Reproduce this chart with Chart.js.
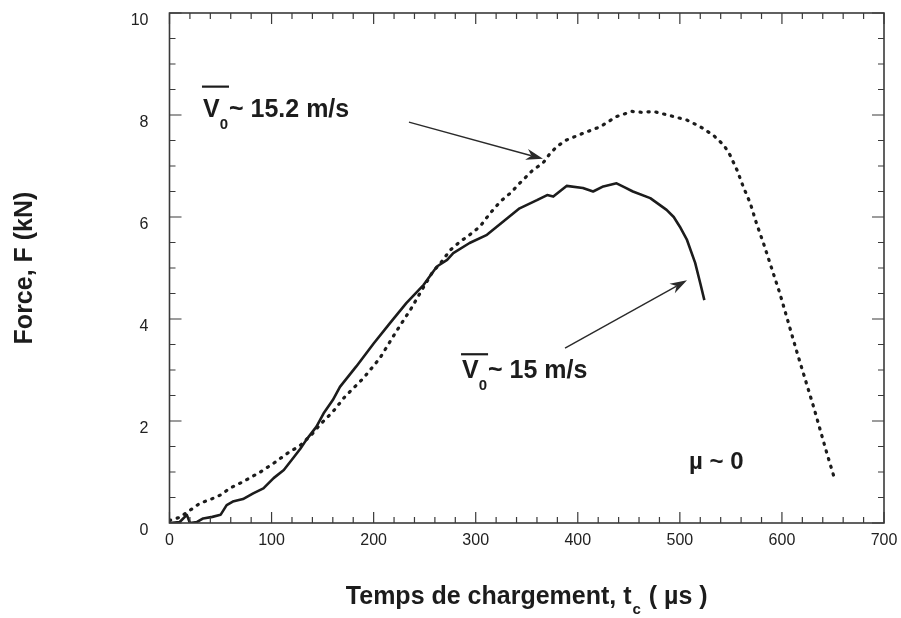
<!DOCTYPE html>
<html><head><meta charset="utf-8">
<script src="https://cdn.jsdelivr.net/npm/chart.js@4.4.1/dist/chart.umd.min.js"></script>
<style>html,body{margin:0;padding:0;background:#fff;}canvas{display:block;}</style>
</head><body>
<canvas id="c" width="901" height="618"></canvas>
<script>
// ---- data ----
const solidT = [0,10,17,20,27,33,42,50,56,62,72,82,92,102,112,121,128,134,144,151,160,167,183,200,216,232,249,262,272,278,294,311,327,343,360,370,376,389,405,415,425,438,446,454,471,487,494,500,507,515,520,524];
const solidF = [0.0,0.02,0.16,0.0,0.02,0.09,0.12,0.16,0.35,0.42,0.47,0.58,0.68,0.88,1.04,1.27,1.45,1.63,1.89,2.15,2.41,2.67,3.07,3.52,3.92,4.31,4.67,5.03,5.16,5.29,5.49,5.65,5.91,6.17,6.33,6.43,6.40,6.61,6.57,6.50,6.60,6.66,6.58,6.50,6.37,6.14,6.0,5.81,5.55,5.10,4.70,4.37];
const dottedT = [0,10,23,30,40,50,59,72,89,102,115,128,140,147,160,172,190,206,222,236,249,258,265,275,285,294,304,314,324,334,343,356,366,373,380,389,405,422,438,453,464,474,490,507,520,533,543,549,556,562,569,575,582,598,615,631,644,652];
const dottedF = [0.05,0.11,0.29,0.39,0.46,0.55,0.68,0.81,1.00,1.17,1.36,1.52,1.75,1.92,2.18,2.48,2.84,3.23,3.75,4.18,4.63,4.93,5.08,5.35,5.52,5.65,5.81,6.07,6.30,6.47,6.66,6.92,7.06,7.25,7.39,7.51,7.64,7.77,7.97,8.07,8.05,8.07,7.99,7.90,7.77,7.60,7.41,7.22,6.92,6.60,6.27,5.88,5.48,4.50,3.33,2.28,1.37,0.84];
const xTickValues = [0,100,200,300,400,500,600,700];
const yTickValues = [0,2,4,6,8,10];
const xTitleMain = 'Temps de chargement, t';
const xTitleSub = 'c';
const xTitleEnd = ' ( \u00B5s )';
const yTitle = 'Force, F (kN)';
const labelDotted = '~ 15.2 m/s';
const labelSolid = '~ 15 m/s';
const labelFriction = '\u00B5 ~ 0';
// annotation anchors in data units [t, F]
const labelDottedAt = [32.8, 7.97];
const labelSolidAt = [286.6, 2.84];
const labelFrictionAt = [509, 1.06];
const arrowDottedFrom = [234.6, 7.86], arrowDottedTo = [365.9, 7.14];
const arrowSolidFrom = [387.5, 3.43], arrowSolidTo = [507.0, 4.76];

const FONT = '"Liberation Sans", Arial, Helvetica, sans-serif';
const INK = '#1c1c1c';

function pts(xs, ys){ return xs.map((x,i)=>({x:x, y:ys[i]})); }

function drawArrow(ctx, x1,y1,x2,y2){
  const a = Math.atan2(y2-y1, x2-x1), L = 17, W = 5.5;
  const c = Math.cos(a), s = Math.sin(a);
  const bx = x2 - c*L*0.7, by = y2 - s*L*0.7;
  ctx.beginPath(); ctx.moveTo(x1,y1); ctx.lineTo(bx,by); ctx.stroke();
  ctx.beginPath();
  ctx.moveTo(x2,y2);
  ctx.lineTo(x2 - c*L + s*W, y2 - s*L - c*W);
  ctx.lineTo(bx,by);
  ctx.lineTo(x2 - c*L - s*W, y2 - s*L + c*W);
  ctx.closePath(); ctx.fill();
}

function velLabel(ctx, x, y, rest, barGap){
  ctx.textAlign='left'; ctx.textBaseline='alphabetic';
  ctx.font = 'bold 25px ' + FONT;
  ctx.fillText('V', x, y);
  const wV = ctx.measureText('V').width;
  ctx.font = 'bold 15px ' + FONT;
  ctx.fillText('0', x + wV, y + 12);
  const w0 = ctx.measureText('0').width;
  ctx.font = 'bold 25px ' + FONT;
  ctx.fillText(rest, x + wV + w0 + 1, y);
  ctx.fillRect(x - 1, y - barGap, wV + w0 + 2, 2.2);
}

const decor = {
  id: 'decor',
  afterDatasetsDraw(chart){
    const {ctx, chartArea: ca, scales: {x, y}} = chart;
    ctx.save();
    // frame
    ctx.strokeStyle = '#3a3a3a'; ctx.lineWidth = 1.6;
    ctx.strokeRect(ca.left, ca.top, ca.right - ca.left, ca.bottom - ca.top);
    // inward ticks
    ctx.lineWidth = 1.2;
    ctx.beginPath();
    for (let v = 0; v <= 700; v += 20){
      const px = x.getPixelForValue(v), len = (v % 100 === 0) ? 11 : 6;
      ctx.moveTo(px, ca.bottom); ctx.lineTo(px, ca.bottom - len);
      ctx.moveTo(px, ca.top); ctx.lineTo(px, ca.top + len);
    }
    for (let k = 0; k <= 20; k++){
      const v = k * 0.5, py = y.getPixelForValue(v), len = (k % 4 === 0) ? 12 : 6;
      ctx.moveTo(ca.left, py); ctx.lineTo(ca.left + len, py);
      ctx.moveTo(ca.right, py); ctx.lineTo(ca.right - len, py);
    }
    ctx.stroke();
    // arrows
    ctx.strokeStyle = '#2a2a2a'; ctx.fillStyle = '#2a2a2a'; ctx.lineWidth = 1.4;
    drawArrow(ctx, x.getPixelForValue(arrowDottedFrom[0]), y.getPixelForValue(arrowDottedFrom[1]),
                   x.getPixelForValue(arrowDottedTo[0]), y.getPixelForValue(arrowDottedTo[1]));
    drawArrow(ctx, x.getPixelForValue(arrowSolidFrom[0]), y.getPixelForValue(arrowSolidFrom[1]),
                   x.getPixelForValue(arrowSolidTo[0]), y.getPixelForValue(arrowSolidTo[1]));
    // labels
    ctx.fillStyle = INK;
    velLabel(ctx, x.getPixelForValue(labelDottedAt[0]), y.getPixelForValue(labelDottedAt[1]), labelDotted, 31);
    velLabel(ctx, x.getPixelForValue(labelSolidAt[0]), y.getPixelForValue(labelSolidAt[1]), labelSolid, 25);
    ctx.font = 'bold 24px ' + FONT; ctx.textAlign = 'left'; ctx.textBaseline = 'alphabetic';
    ctx.fillText(labelFriction, x.getPixelForValue(labelFrictionAt[0]), y.getPixelForValue(labelFrictionAt[1]));
    // x title with subscript
    ctx.font = 'bold 25px ' + FONT;
    const w1 = ctx.measureText(xTitleMain).width, w3 = ctx.measureText(xTitleEnd).width;
    ctx.font = 'bold 15px ' + FONT;
    const w2 = ctx.measureText(xTitleSub).width + 2;
    const total = w1 + w2 + w3;
    const cx = (ca.left + ca.right) / 2, by = 604;
    let sx = cx - total / 2;
    ctx.font = 'bold 25px ' + FONT; ctx.fillText(xTitleMain, sx, by);
    ctx.font = 'bold 15px ' + FONT; ctx.fillText(xTitleSub, sx + w1 + 1, by + 10);
    ctx.font = 'bold 25px ' + FONT; ctx.fillText(xTitleEnd, sx + w1 + w2, by);
    ctx.restore();
  }
};

new Chart(document.getElementById('c'), {
  type: 'scatter',
  data: {
    datasets: [
      { label: 'V0 ~ 15 m/s', data: pts(solidT, solidF), showLine: true, pointRadius: 0,
        borderColor: INK, borderWidth: 2.6, tension: 0, borderJoinStyle: 'round' },
      { label: 'V0 ~ 15.2 m/s', data: pts(dottedT, dottedF), showLine: true, pointRadius: 0,
        borderColor: INK, borderWidth: 3.2, tension: 0, borderDash: [1.2, 6.8], borderCapStyle: 'round' }
    ]
  },
  options: {
    responsive: false, animation: false, devicePixelRatio: 1,
    layout: { padding: { left: 0, right: 17, top: 13, bottom: 0 } },
    plugins: { legend: { display: false }, tooltip: { enabled: false } },
    scales: {
      x: { type: 'linear', min: 0, max: 700, border: { display: false },
           afterBuildTicks: s => { s.ticks = xTickValues.map(v => ({value: v})); },
           afterFit: s => { s.height = 95; s.paddingLeft = 0; s.paddingRight = 0; },
           grid: { display: false, drawTicks: false },
           ticks: { padding: 8, color: '#222', font: { family: FONT, size: 16 } } },
      y: { type: 'linear', min: 0, max: 10, border: { display: false },
           afterBuildTicks: s => { s.ticks = yTickValues.map(v => ({value: v})); },
           afterFit: s => { s.width = 169.5; s.paddingTop = 0; s.paddingBottom = 0; },
           grid: { display: false, drawTicks: false },
           ticks: { padding: 21, labelOffset: 7.5, color: '#222', font: { family: FONT, size: 16 } },
           title: { display: true, text: yTitle, color: INK, padding: { top: 10, bottom: 0 },
                    font: { family: FONT, size: 25, weight: 'bold' } } }
    }
  },
  plugins: [decor]
});
</script>
</body></html>
